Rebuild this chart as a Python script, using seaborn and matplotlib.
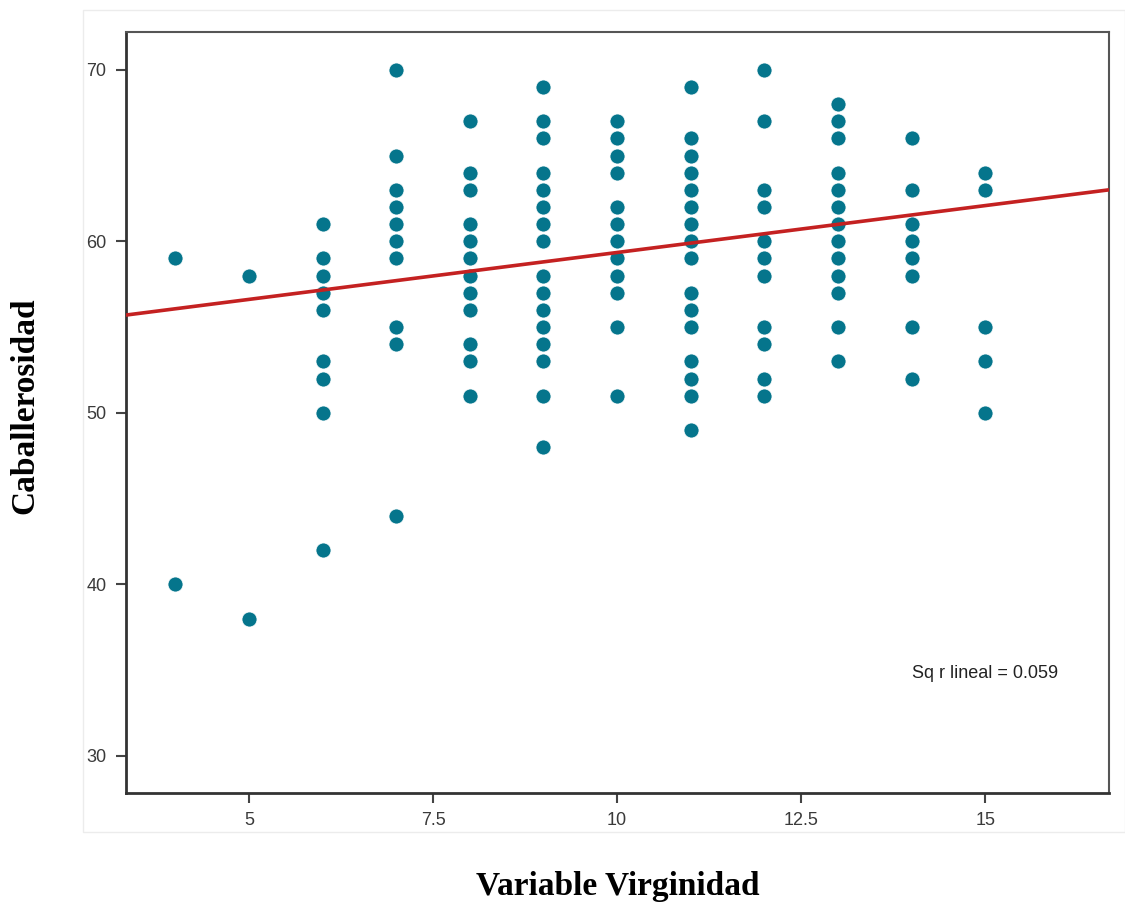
import matplotlib
matplotlib.use("Agg")
import matplotlib.pyplot as plt
import pandas as pd
import seaborn as sns
from matplotlib.patches import Rectangle

# values, one list per x column
virginidad = ([4] * 2 + [5] * 2 + [6] * 9 + [7] * 10 + [8] * 12 + [9] * 16
              + [10] * 12 + [11] * 16 + [12] * 11 + [13] * 13 + [14] * 8 + [15] * 5)
caballerosidad = (
    [59, 40]
    + [58, 38]
    + [61, 59, 58, 57, 56, 53, 52, 50, 42]
    + [70, 65, 63, 62, 61, 60, 59, 55, 54, 44]
    + [67, 64, 63, 61, 60, 59, 58, 57, 56, 54, 53, 51]
    + [69, 67, 66, 64, 63, 62, 61, 60, 58, 57, 56, 55, 54, 53, 51, 48]
    + [67, 66, 65, 64, 62, 61, 60, 59, 58, 57, 55, 51]
    + [69, 66, 65, 64, 63, 62, 61, 60, 59, 57, 56, 55, 53, 52, 51, 49]
    + [70, 67, 63, 62, 60, 59, 58, 55, 54, 52, 51]
    + [68, 67, 66, 64, 63, 62, 61, 60, 59, 58, 57, 55, 53]
    + [66, 63, 61, 60, 59, 58, 55, 52]
    + [64, 63, 55, 53, 50]
)
# fit line as drawn in the chart (read at the two axis edges)
fit_x = [3.33, 16.68]
fit_y = [55.7, 63.0]
x_ticks = [5, 7.5, 10, 12.5, 15]
x_tick_labels = ["5", "7.5", "10", "12.5", "15"]
y_ticks = [30, 40, 50, 60, 70]
r2_text = "Sq r lineal = 0.059"

df = pd.DataFrame({"Virginidad": virginidad, "Caballerosidad": caballerosidad})

sns.set_style("white")
plt.rcParams["font.family"] = ["Liberation Sans", "DejaVu Sans"]

fig = plt.figure(figsize=(11.25, 9.07), dpi=100, facecolor="white")
# faint outer chart frame
fig.patches.append(Rectangle((83 / 1125, 1 - 832 / 907), 1042 / 1125, 822 / 907,
                             transform=fig.transFigure, fill=False,
                             edgecolor="#ececec", linewidth=1))
ax = fig.add_axes([126 / 1125, 1 - 793 / 907, 983 / 1125, 761 / 907])
ax.set_xlim(3.33, 16.68)
ax.set_ylim(27.84, 72.2)

sns.scatterplot(x="Virginidad", y="Caballerosidad", data=df, ax=ax, s=118,
                color="#05758c", edgecolor="white", linewidth=0.6, zorder=2)
sns.lineplot(x=fit_x, y=fit_y, ax=ax, color="#c42121", linewidth=2.6, zorder=3)

ax.set_xticks(x_ticks)
ax.set_xticklabels(x_tick_labels)
ax.set_yticks(y_ticks)
ax.tick_params(axis="both", direction="out", length=7, width=1.5, color="#444444",
               labelsize=13, labelcolor="#3a3a3a", bottom=True, left=True, pad=7)

for side in ["left", "bottom"]:
    ax.spines[side].set_color("#333333")
    ax.spines[side].set_linewidth(2)
for side in ["top", "right"]:
    ax.spines[side].set_color("#555555")
    ax.spines[side].set_linewidth(1.5)

ax.set_xlabel("")
ax.set_ylabel("")
ax.text(14.01, 34.8, r2_text, fontsize=13, color="#222222", ha="left", va="center")

fig.text(618 / 1125, 1 - 887 / 907, "Variable Virginidad", ha="center", va="center",
         family="Liberation Serif", fontweight="bold", fontsize=24, color="black")
fig.text(25 / 1125, 1 - 406 / 907, "Caballerosidad", ha="center", va="center", rotation=90,
         family="Liberation Serif", fontweight="bold", fontsize=24, color="black")

fig.savefig("out.png", dpi=100)
